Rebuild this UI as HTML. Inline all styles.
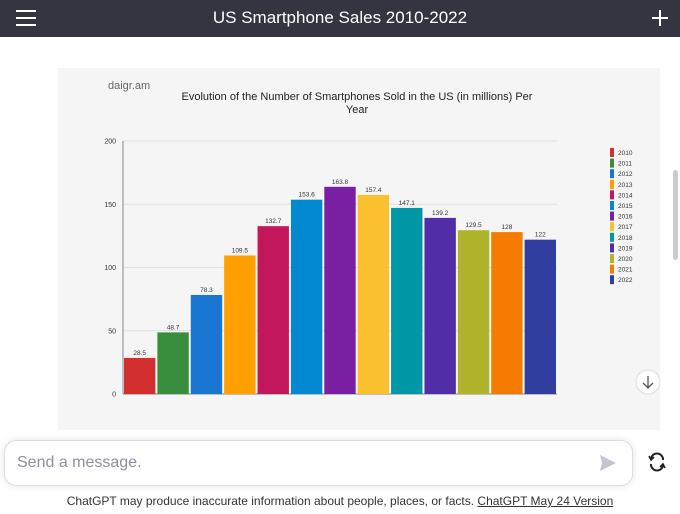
<!DOCTYPE html>
<html><head><meta charset="utf-8"><style>
body{margin:0;width:680px;height:514px;overflow:hidden;background:#fff;font-family:"Liberation Sans",sans-serif;position:relative}
.hdr{position:absolute;left:0;top:0;width:680px;height:37px;background:#343541;color:#fff}
.hdr .t{position:absolute;left:0;right:0;top:8px;text-align:center;font-size:17px}
.card{position:absolute;left:58px;top:68px;width:602px;height:362px;background:#f5f5f5}
.inp{position:absolute;left:4px;top:440px;width:627px;height:44px;border:1px solid #ddd;border-radius:12px;box-shadow:0 0 8px rgba(0,0,0,.1);background:#fff}
.foot{position:absolute;left:0;width:680px;top:494px;text-align:center;font-size:12px;color:#333}
</style></head><body>
<div class="hdr">
<svg style="position:absolute;left:16px;top:10px" width="20" height="16"><path d="M0 1H20M0 8H20M0 15H20" stroke="#fff" stroke-width="2"/></svg>
<div class="t">US Smartphone Sales 2010-2022</div>
<svg style="position:absolute;left:652px;top:10px" width="16" height="16"><path d="M8 0V16M0 8H16" stroke="#fff" stroke-width="2"/></svg>
</div>
<div style="position:absolute;left:673px;top:170px;width:5px;height:90px;background:#ccc;border-radius:3px"></div>
<div class="card"></div>
<svg id="chart" style="position:absolute;left:0;top:0" width="680" height="430"></svg>
<div class="inp"><span style="position:absolute;left:12px;top:13px;font-size:16px;color:#8e8ea0">Send a message.</span>
<svg style="position:absolute;left:594px;top:13px" width="18" height="18"><path d="M1 1L17 9L1 17L3 9Z" fill="#c5c5d2"/></svg></div>
<svg style="position:absolute;left:647px;top:452px" width="20" height="20"><path d="M16 8A6 6 0 0 0 4 7M4 12A6 6 0 0 0 16 13" stroke="#222" stroke-width="2" fill="none"/><path d="M2 4L4 8L7 5M18 16L16 12L13 15" stroke="#222" stroke-width="1.6" fill="none"/></svg>
<div class="foot">ChatGPT may produce inaccurate information about people, places, or facts. <u>ChatGPT May 24 Version</u></div>
<script>
const categories=["2010","2011","2012","2013","2014","2015","2016","2017","2018","2019","2020","2021","2022"];
const values=[28.5,48.7,78.3,109.5,132.7,153.6,163.8,157.4,147.1,139.2,129.5,128,122];
const colors=["#d32f2f","#388e3c","#1976d2","#ffa000","#c2185b","#0288d1","#7b1fa2","#fbc02d","#0097a7","#512da8","#afb42b","#f57c00","#303f9f"];
const yTicks=[0,50,100,150,200];
const NS="http://www.w3.org/2000/svg";
const svg=document.getElementById('chart');
const X0=123,X1=557,Y0=394,Y1=141,YMAX=200;
const y=v=>Y0-(v/YMAX)*(Y0-Y1);
const slot=(X1-X0)/categories.length;
const x=i=>X0+i*slot;
function mk(t,a,txt){const e=document.createElementNS(NS,t);for(const k in a)e.setAttribute(k,a[k]);if(txt!=null)e.textContent=txt;svg.appendChild(e);return e;}
let e;
e=mk('text',{x:108,y:89,'font-size':11,fill:'#666'},'daigr.am');


e=mk('text',{x:357,y:100,'font-size':11,'text-anchor':'middle',fill:'#222'},'Evolution of the Number of Smartphones Sold in the US (in millions) Per');


e=mk('text',{x:357,y:113,'font-size':11,'text-anchor':'middle',fill:'#222'},'Year');


yTicks.forEach(t=>{
 e=mk('line',{x1:X0,x2:X1,y1:y(t),y2:y(t),stroke:t===0?'#888':'#e0e0e0','stroke-width':1});
 
 
 e=mk('text',{x:116,y:y(t)+2.5,'font-size':7,'text-anchor':'end',fill:'#333'},t);
 
 
});
e=mk('line',{x1:X0,x2:X0,y1:Y1,y2:Y0,stroke:'#888'});


values.forEach((v,i)=>{
 e=mk('rect',{x:x(i)+1,y:y(v),width:slot-2,height:Y0-y(v),fill:colors[i]});
 
 
 e=mk('text',{x:x(i)+slot/2,y:y(v)-3,'font-size':6.5,'text-anchor':'middle',fill:'#333'},v);
 
 
 e=mk('rect',{x:610,y:148+i*10.6,width:4,height:9,fill:colors[i]});
 
 
 e=mk('text',{x:618,y:155+i*10.6,'font-size':6.5,fill:'#333'},categories[i]);
 
 
});
e=mk('circle',{cx:648,cy:382,r:12,fill:'#fff',stroke:'#ddd'});


mk('path',{d:'M648 376V388M643 383L648 388L653 383',stroke:'#555','stroke-width':1.3,fill:'none'});
</script>
</body></html>
